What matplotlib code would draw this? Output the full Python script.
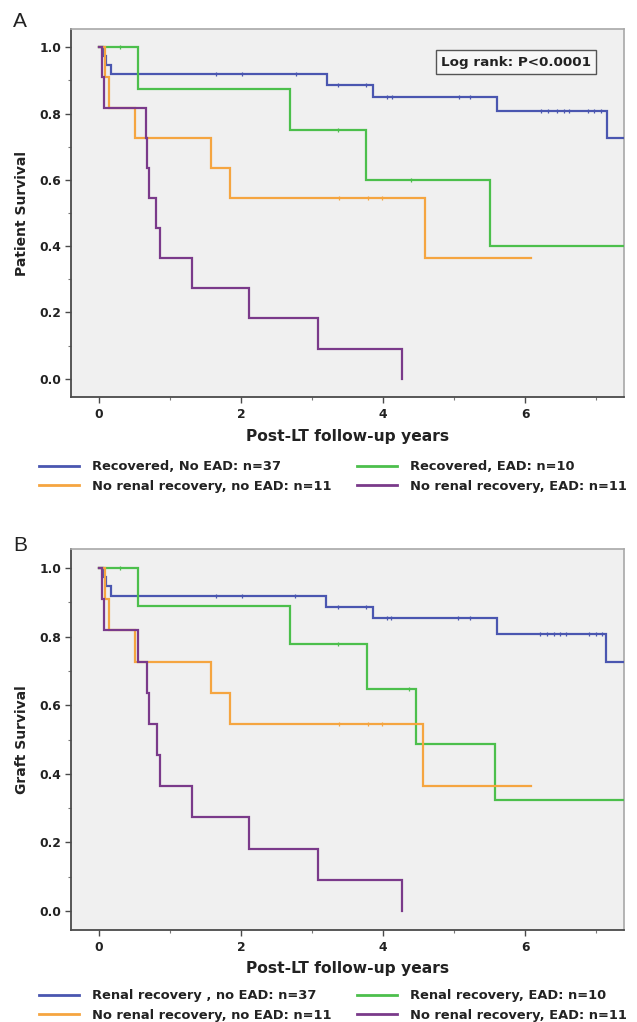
import numpy as np
import matplotlib
matplotlib.use("Agg")
import matplotlib.pyplot as plt
from matplotlib.ticker import MultipleLocator

plt.rcParams['font.family'] = ['DejaVu Sans']

# ---------------- data ----------------
# Panel A: patient survival
A_blue_t = [0, 0.05, 0.10, 0.17, 3.21, 3.85, 5.60, 7.15]
A_blue_s = [1.0, 0.973, 0.946, 0.919, 0.886, 0.851, 0.807, 0.727]
A_blue_end = 7.6
A_blue_cens = [1.65, 2.02, 2.78, 3.36, 3.76, 4.06, 4.12, 5.07, 5.22,
               6.22, 6.32, 6.44, 6.54, 6.62, 6.89, 6.97, 7.06]

A_green_t = [0, 0.55, 2.69, 3.76, 5.51]
A_green_s = [1.0, 0.875, 0.75, 0.60, 0.40]
A_green_end = 7.6
A_green_cens = [0.30, 3.37, 4.39]

A_orange_t = [0, 0.08, 0.14, 0.50, 1.58, 1.85, 4.59]
A_orange_s = [1.0, 0.909, 0.818, 0.727, 0.636, 0.545, 0.364]
A_orange_end = 6.08
A_orange_cens = [3.38, 3.78, 3.98]

A_purple_t = [0, 0.04, 0.07, 0.66, 0.68, 0.70, 0.80, 0.86, 1.31, 2.11, 3.08, 4.27]
A_purple_s = [1.0, 0.909, 0.818, 0.727, 0.636, 0.545, 0.455, 0.364, 0.273, 0.182, 0.091, 0.0]
A_purple_end = 4.27
A_purple_cens = []

# Panel B: graft survival
B_blue_t = [0, 0.05, 0.10, 0.17, 3.20, 3.85, 5.60, 7.14]
B_blue_s = [1.0, 0.973, 0.946, 0.919, 0.886, 0.853, 0.808, 0.727]
B_blue_end = 7.6
B_blue_cens = [1.65, 2.02, 2.76, 3.36, 3.76, 4.06, 4.11, 5.05, 5.22,
               6.21, 6.31, 6.40, 6.49, 6.58, 6.90, 6.99, 7.08]

B_green_t = [0, 0.55, 2.69, 3.77, 4.46, 5.57]
B_green_s = [1.0, 0.889, 0.778, 0.648, 0.486, 0.324]
B_green_end = 7.6
B_green_cens = [0.30, 3.36, 4.36]

B_orange_t = [0, 0.08, 0.14, 0.50, 1.58, 1.85, 4.56]
B_orange_s = [1.0, 0.909, 0.818, 0.727, 0.636, 0.545, 0.364]
B_orange_end = 6.08
B_orange_cens = [3.38, 3.78, 3.98]

B_purple_t = [0, 0.04, 0.07, 0.55, 0.67, 0.70, 0.81, 0.86, 1.31, 2.11, 3.08, 4.27]
B_purple_s = [1.0, 0.909, 0.818, 0.727, 0.636, 0.545, 0.455, 0.364, 0.273, 0.182, 0.091, 0.0]
B_purple_end = 4.27
B_purple_cens = []

A_labels = ["Recovered, No EAD: n=37", "Recovered, EAD: n=10",
            "No renal recovery, no EAD: n=11", "No renal recovery, EAD: n=11"]
B_labels = ["Renal recovery , no EAD: n=37", "Renal recovery, EAD: n=10",
            "No renal recovery, no EAD: n=11", "No renal recovery, EAD: n=11"]

x_ticks = [0, 2, 4, 6]
y_ticks = [0.0, 0.2, 0.4, 0.6, 0.8, 1.0]

# ---------------- style ----------------
C_BLUE = '#4a56b0'
C_GREEN = '#4cbf4c'
C_ORANGE = '#f5a540'
C_PURPLE = '#7a3a8a'
BG = '#f0f0f0'
TXT = '#222222'

W, H = 637, 1022
fig = plt.figure(figsize=(W / 100, H / 100), dpi=100)


def px_axes(l, t, r, b):
    return fig.add_axes([l / W, 1 - b / H, (r - l) / W, (b - t) / H])


def km(ax, t, s, end, cens, color, label):
    x = list(t) + [end]
    y = list(s) + [s[-1]]
    line, = ax.step(x, y, where='post', color=color, lw=1.6, label=label,
                    solid_joinstyle='miter', zorder=3)
    if len(cens):
        idx = np.searchsorted(np.array(t), np.array(cens), side='right') - 1
        cy = np.array(s)[idx]
        ax.plot(cens, cy, ls='none', marker='|', ms=3.5, mew=0.9, color=color, zorder=4)
    return line


def style_axes(ax, ylabel):
    ax.set_facecolor(BG)
    ax.set_xlim(-0.394, 7.39)
    ax.set_ylim(-0.055, 1.055)
    ax.set_xticks(x_ticks)
    ax.set_yticks(y_ticks)
    ax.set_yticklabels([f"{v:.1f}" for v in y_ticks])
    ax.xaxis.set_minor_locator(MultipleLocator(1))
    ax.yaxis.set_minor_locator(MultipleLocator(0.1))
    for side in ['left', 'bottom']:
        ax.spines[side].set_color('#4a4a4a')
        ax.spines[side].set_linewidth(1.3)
    for side in ['top', 'right']:
        ax.spines[side].set_color('#a8a8a8')
        ax.spines[side].set_linewidth(1.2)
    ax.tick_params(axis='both', which='major', length=4, width=1.0, color='#4a4a4a',
                   labelsize=8.9, labelcolor=TXT)
    ax.tick_params(axis='y', which='major', pad=3)
    ax.tick_params(axis='x', which='major', pad=4)
    ax.tick_params(axis='both', which='minor', length=2.5, width=0.8, color='#777777')
    for lab in ax.get_xticklabels() + ax.get_yticklabels():
        lab.set_fontweight('bold')
    ax.set_xlabel("Post-LT follow-up years", fontsize=11.2, fontweight='bold', color=TXT)
    ax.set_ylabel(ylabel, fontsize=10.0, fontweight='bold', color=TXT)


def legends(ax, lines, labels, y_center):
    kw = dict(frameon=False, fontsize=9.4, handlelength=3.1, handletextpad=0.95,
              labelspacing=0.47, borderpad=0, borderaxespad=0,
              bbox_transform=fig.transFigure, loc='center left')
    leg1 = ax.legend([lines[0], lines[2]], [labels[0], labels[2]],
                     bbox_to_anchor=(39 / W, 1 - y_center / H), **kw)
    ax.add_artist(leg1)
    leg2 = ax.legend([lines[1], lines[3]], [labels[1], labels[3]],
                     bbox_to_anchor=(357 / W, 1 - y_center / H), **kw)
    for lg in (leg1, leg2):
        for tx in lg.get_texts():
            tx.set_fontweight('bold')
            tx.set_color(TXT)
        for h in lg.legend_handles:
            h.set_linewidth(2.0)


# ---------------- panel A ----------------
axA = px_axes(71, 29, 624, 397)
lA = [km(axA, A_blue_t, A_blue_s, A_blue_end, A_blue_cens, C_BLUE, A_labels[0]),
      km(axA, A_green_t, A_green_s, A_green_end, A_green_cens, C_GREEN, A_labels[1]),
      km(axA, A_orange_t, A_orange_s, A_orange_end, A_orange_cens, C_ORANGE, A_labels[2]),
      km(axA, A_purple_t, A_purple_s, A_purple_end, A_purple_cens, C_PURPLE, A_labels[3])]
style_axes(axA, "Patient Survival")
axA.xaxis.set_label_coords(0.5, (397 - 436) / 368)
axA.xaxis.label.set_va('center')
axA.yaxis.set_label_coords((22 - 71) / 553, 0.5)
axA.yaxis.label.set_va('center')
axA.text((516 - 71) / 553, (397 - 62) / 368, "Log rank: P<0.0001", transform=axA.transAxes,
         ha='center', va='center', fontsize=9.7, fontweight='bold', color=TXT,
         bbox=dict(boxstyle='square,pad=0.4', facecolor='#f7f7f7', edgecolor='#555555', lw=1.0),
         zorder=5)
legends(axA, lA, A_labels, 476.5)

# ---------------- panel B ----------------
axB = px_axes(71, 549, 624, 930)
lB = [km(axB, B_blue_t, B_blue_s, B_blue_end, B_blue_cens, C_BLUE, B_labels[0]),
      km(axB, B_green_t, B_green_s, B_green_end, B_green_cens, C_GREEN, B_labels[1]),
      km(axB, B_orange_t, B_orange_s, B_orange_end, B_orange_cens, C_ORANGE, B_labels[2]),
      km(axB, B_purple_t, B_purple_s, B_purple_end, B_purple_cens, C_PURPLE, B_labels[3])]
style_axes(axB, "Graft Survival")
axB.xaxis.set_label_coords(0.5, (930 - 968) / 381)
axB.xaxis.label.set_va('center')
axB.yaxis.set_label_coords((22 - 71) / 553, 0.5)
axB.yaxis.label.set_va('center')
legends(axB, lB, B_labels, 1005.5)

fig.text(13 / W, 1 - 27 / H, "A", fontsize=15, ha='left', va='baseline', color=TXT,
         family='Liberation Sans')
fig.text(13 / W, 1 - 551 / H, "B", fontsize=15, ha='left', va='baseline', color=TXT,
         family='Liberation Sans')

fig.savefig("out.png", dpi=100)
